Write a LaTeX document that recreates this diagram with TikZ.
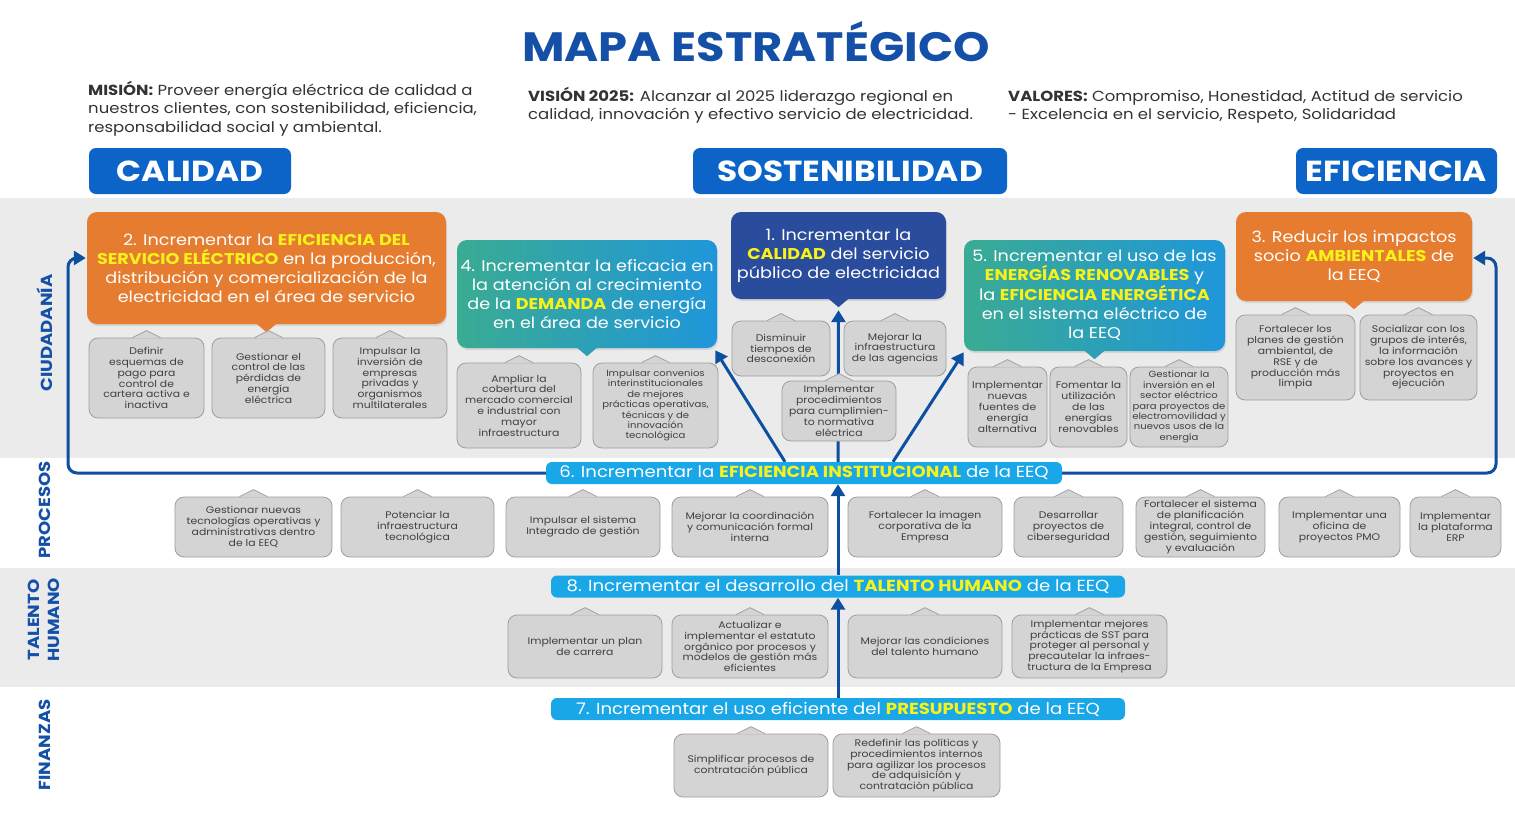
\documentclass[tikz,border=0pt]{standalone}
\usepackage{fontspec}
\setmainfont{Poppins}[FakeStretch=1.13]
\usetikzlibrary{arrows.meta,shadows,calc}
\definecolor{titleblue}{HTML}{1550A8}
\definecolor{hdrblue}{HTML}{0C64C8}
\definecolor{connblue}{HTML}{0D4FA0}
\definecolor{barblue}{HTML}{19A7E8}
\definecolor{orangeobj}{HTML}{E67C30}
\definecolor{navyobj}{HTML}{2A4C9C}
\definecolor{tealA}{HTML}{3AAB93}
\definecolor{tealB}{HTML}{1F96DA}
\definecolor{hly}{HTML}{F6F21A}
\definecolor{bandgrey}{HTML}{EBEBEB}
\definecolor{tilefill}{HTML}{D4D4D4}
\definecolor{tileline}{HTML}{9E9E9E}
\definecolor{tiletext}{HTML}{404040}
\definecolor{bodytext}{HTML}{333333}
\pgfdeclarelayer{background}
\pgfsetlayers{background,main}
\newcommand\hl[1]{{\bfseries\color{hly}#1}}
\newcommand\tilebox[7][]{%
  \node[tile, #1, minimum width={(#5)-(#3)}, minimum height={(#6)-(#4)}] (#2) at ({((#3)+(#5))/2},{((#4)+(#6))/2}) {#7};
  \fill[tilefill] ([xshift=-14pt,yshift=-0.8pt]#2.north) -- ([yshift=7pt]#2.north) -- ([xshift=14pt,yshift=-0.8pt]#2.north) -- cycle;
  \draw[tileline, line width=0.8pt, line join=round] ([xshift=-14pt]#2.north) -- ([yshift=7pt]#2.north) -- ([xshift=14pt]#2.north);
}
\newcommand\objbox[8]{%
  \node[obj,#1, minimum width={(#5)-(#3)}, minimum height={(#6)-(#4)}] (#2) at ({((#3)+(#5))/2},{((#4)+(#6))/2}) {#8};
  \fill[#7] ([xshift=-10pt,yshift=0.5pt]#2.south) -- ([yshift=-8pt]#2.south) -- ([xshift=10pt,yshift=0.5pt]#2.south) -- cycle;
}
\begin{document}
\begin{tikzpicture}[x=1pt,y=-1pt,
  tile/.style={draw=tileline, fill=tilefill, rounded corners=9pt, line width=0.8pt, text=tiletext, align=center, font=\fontsize{9.6}{10.8}\selectfont, inner sep=1pt},
  smalltile/.style={font=\fontsize{8.9}{10.4}\selectfont},
  obj/.style={rounded corners=10pt, text=white, align=center, font=\fontsize{15.6}{19}\selectfont, inner sep=2pt, drop shadow={opacity=0.2,shadow xshift=1pt,shadow yshift=-2pt}},
  orangebox/.style={fill=orangeobj},
  navybox/.style={fill=navyobj},
  tealbox/.style={left color=tealA, right color=tealB},
  bar/.style={fill=barblue, rounded corners=6pt, text=white, font=\fontsize{16}{16}\selectfont, inner sep=0pt},
  hdr/.style={fill=hdrblue, rounded corners=7pt, text=white, font=\fontsize{29}{29}\selectfont\bfseries, inner sep=0pt},
  conn/.style={draw=connblue, line width=3pt, -{Triangle[width=14pt,length=12pt]}},
  lane/.style={text=titleblue, font=\fontsize{16}{20}\selectfont\bfseries, rotate=90, align=center},
  intro/.style={anchor=north west, align=left, text=bodytext, font=\fontsize{14.6}{18.5}\selectfont, inner sep=0pt}
]
\useasboundingbox (0,0) rectangle (1515,814);
\begin{pgfonlayer}{background}
\fill[white] (0,0) rectangle (1515,814);
\fill[bandgrey] (0,198) rectangle (1515,458);
\fill[bandgrey] (0,568) rectangle (1515,687);
\end{pgfonlayer}

% title and statements
\node[text=titleblue, font=\fontsize{41}{41}\selectfont\bfseries] (title) at (756,42) {MAPA ESTRATÉGICO};
\node[intro] (mision) at (88,81) {\textbf{MISIÓN:} Proveer energía eléctrica de calidad a\\nuestros clientes, con sostenibilidad, eficiencia,\\responsabilidad social y ambiental.};
\node[intro] (vision) at (528,87) {\textbf{VISIÓN 2025:} Alcanzar al 2025 liderazgo regional en\\calidad, innovación y efectivo servicio de electricidad.};
\node[intro] (valores) at (1008,90) {\textbf{VALORES:} Compromiso, Honestidad, Actitud de servicio\\- Excelencia en el servicio, Respeto, Solidaridad};

% headers
\node[hdr, minimum width=202pt, minimum height=46pt] (hcal) at (190,171) {CALIDAD};
\node[hdr, minimum width=314pt, minimum height=46pt] (hsos) at (850,171) {SOSTENIBILIDAD};
\node[hdr, minimum width=201pt, minimum height=46pt] (hefi) at (1396.5,171) {EFICIENCIA};

% lane labels
\node[lane] (lciu) at (45,333) {CIUDADANÍA};
\node[lane] (lpro) at (45,510) {PROCESOS};
\node[lane] (ltal) at (44,620) {TALENTO\\HUMANO};
\node[lane] (lfin) at (45,745) {FINANZAS};

% objectives
\objbox{orangebox}{o2}{87}{212}{446}{324}{orangeobj}{2. Incrementar la \hl{EFICIENCIA DEL}\\\hl{SERVICIO ELÉCTRICO} en la producción,\\distribución y comercialización de la\\electricidad en el área de servicio}
\objbox{tealbox}{o4}{457}{240}{717}{348}{tealA!50!tealB}{4. Incrementar la eficacia en\\la atención al crecimiento\\de la \hl{DEMANDA} de energía\\en el área de servicio}
\objbox{navybox}{o1}{731}{212}{946}{299}{navyobj}{1. Incrementar la\\\hl{CALIDAD} del servicio\\público de electricidad}
\objbox{tealbox}{o5}{964}{240}{1225}{351}{tealA!50!tealB}{5. Incrementar el uso de las\\\hl{ENERGÍAS RENOVABLES} y\\la \hl{EFICIENCIA ENERGÉTICA}\\en el sistema eléctrico de\\la EEQ}
\objbox{orangebox}{o3}{1236}{212}{1472}{301}{orangeobj}{3. Reducir los impactos\\socio \hl{AMBIENTALES} de\\la EEQ}

% bars
\node[bar, minimum width=516pt, minimum height=22pt] (b6) at (804,473) {6. Incrementar la \hl{EFICIENCIA INSTITUCIONAL} de la EEQ};
\node[bar, minimum width=574pt, minimum height=22pt] (b8) at (838,586.5) {8. Incrementar el desarrollo del \hl{TALENTO HUMANO} de la EEQ};
\node[bar, minimum width=574pt, minimum height=22pt] (b7) at (838,709) {7. Incrementar el uso eficiente del \hl{PRESUPUESTO} de la EEQ};

% connectors
\coordinate (lc) at (68,258);
\coordinate (rc) at (1496,258);
\coordinate (ax) at (838,0);
\coordinate (dl) at (785,0);
\coordinate (dr) at (893,0);
\begin{pgfonlayer}{background}
\draw[conn, rounded corners=9pt] (b6.west) -| (lc) -- ([xshift=-1pt]lc -| o2.west);
\draw[conn, rounded corners=9pt] (b6.east) -| (rc) -- ([xshift=1pt]rc -| o3.east);
\draw[conn] (b6.north -| ax) -- ([yshift=-11pt]o1.south);
\draw[conn] (b6.north -| dl) -- ([xshift=-2pt,yshift=-2pt]o4.south east);
\draw[conn] (b6.north -| dr) -- ([xshift=0pt,yshift=-1pt]o5.south west);
\draw[conn] (b8.north -| ax) -- (b6.south -| ax);
\draw[conn] (b7.north -| ax) -- (b8.south -| ax);
\end{pgfonlayer}

% ciudadania tiles
\tilebox{t21}{89}{338}{204}{418}{Definir\\esquemas de\\pago para\\control de\\cartera activa e\\inactiva}
\tilebox{t22}{212}{338}{325}{418}{Gestionar el\\control de las\\pérdidas de\\energía\\eléctrica}
\tilebox{t23}{333}{338}{447}{418}{Impulsar la\\inversión de\\empresas\\privadas y\\organismos\\multilaterales}
\tilebox{t41}{457}{363}{581}{448}{Ampliar la\\cobertura del\\mercado comercial\\e industrial con\\mayor\\infraestructura}
\tilebox[smalltile]{t42}{593}{363}{718}{448}{Impulsar convenios\\interinstitucionales\\de mejores\\prácticas operativas,\\técnicas y de\\innovación\\tecnológica}
\tilebox{t11}{732}{321}{830}{376}{Disminuir\\tiempos de\\desconexión}
\tilebox{t12}{844}{321}{946}{376}{Mejorar la\\infraestructura\\de las agencias}
\tilebox{t13}{782}{381}{896}{441}{Implementar\\procedimientos\\para cumplimien-\\to normativa\\eléctrica}
\tilebox{t51}{968}{367}{1047}{447}{Implementar\\nuevas\\fuentes de\\energía\\alternativa}
\tilebox{t52}{1050}{367}{1127}{447}{Fomentar la\\utilización\\de las\\energías\\renovables}
\tilebox[smalltile]{t53}{1130}{367}{1228}{447}{Gestionar la\\inversión en el\\sector eléctrico\\para proyectos de\\electromovilidad y\\nuevos usos de la\\energía}
\tilebox{t31}{1236}{315}{1355}{400}{Fortalecer los\\planes de gestión\\ambiental, de\\RSE y de\\producción más\\limpia}
\tilebox{t32}{1360}{315}{1477}{400}{Socializar con los\\grupos de interés,\\la información\\sobre los avances y\\proyectos en\\ejecución}

% procesos tiles
\tilebox{p1}{175}{497}{332}{557}{Gestionar nuevas\\tecnologías operativas y\\administrativas dentro\\de la EEQ}
\tilebox{p2}{341}{497}{494}{557}{Potenciar la\\infraestructura\\tecnológica}
\tilebox{p3}{506}{497}{660}{557}{Impulsar el sistema\\Integrado de gestión}
\tilebox{p4}{672}{497}{828}{557}{Mejorar la coordinación\\y comunicación formal\\interna}
\tilebox{p5}{848}{497}{1002}{557}{Fortalecer la imagen\\corporativa de la\\Empresa}
\tilebox{p6}{1014}{497}{1123}{557}{Desarrollar\\proyectos de\\ciberseguridad}
\tilebox{p7}{1136}{497}{1265}{557}{Fortalecer el sistema\\de planificación\\integral, control de\\gestión, seguimiento\\y evaluación}
\tilebox{p8}{1279}{497}{1400}{557}{Implementar una\\oficina de\\proyectos PMO}
\tilebox{p9}{1410}{497}{1501}{557}{Implementar\\la plataforma\\ERP}

% talento tiles
\tilebox{h1}{508}{615}{662}{678}{Implementar un plan\\de carrera}
\tilebox{h2}{672}{615}{828}{678}{Actualizar e\\implementar el estatuto\\orgánico por procesos y\\modelos de gestión más\\eficientes}
\tilebox{h3}{848}{615}{1002}{678}{Mejorar las condiciones\\del talento humano}
\tilebox{h4}{1012}{615}{1167}{678}{Implementar mejores\\prácticas de SST para\\proteger al personal y\\precautelar la infraes-\\tructura de la Empresa}

% finanzas tiles
\tilebox{f1}{674}{734}{828}{797}{Simplificar procesos de\\contratación pública}
\tilebox{f2}{833}{734}{1000}{797}{Redefinir las políticas y\\procedimientos internos\\para agilizar los procesos\\de adquisición y\\contratación pública}
\end{tikzpicture}
\end{document}
